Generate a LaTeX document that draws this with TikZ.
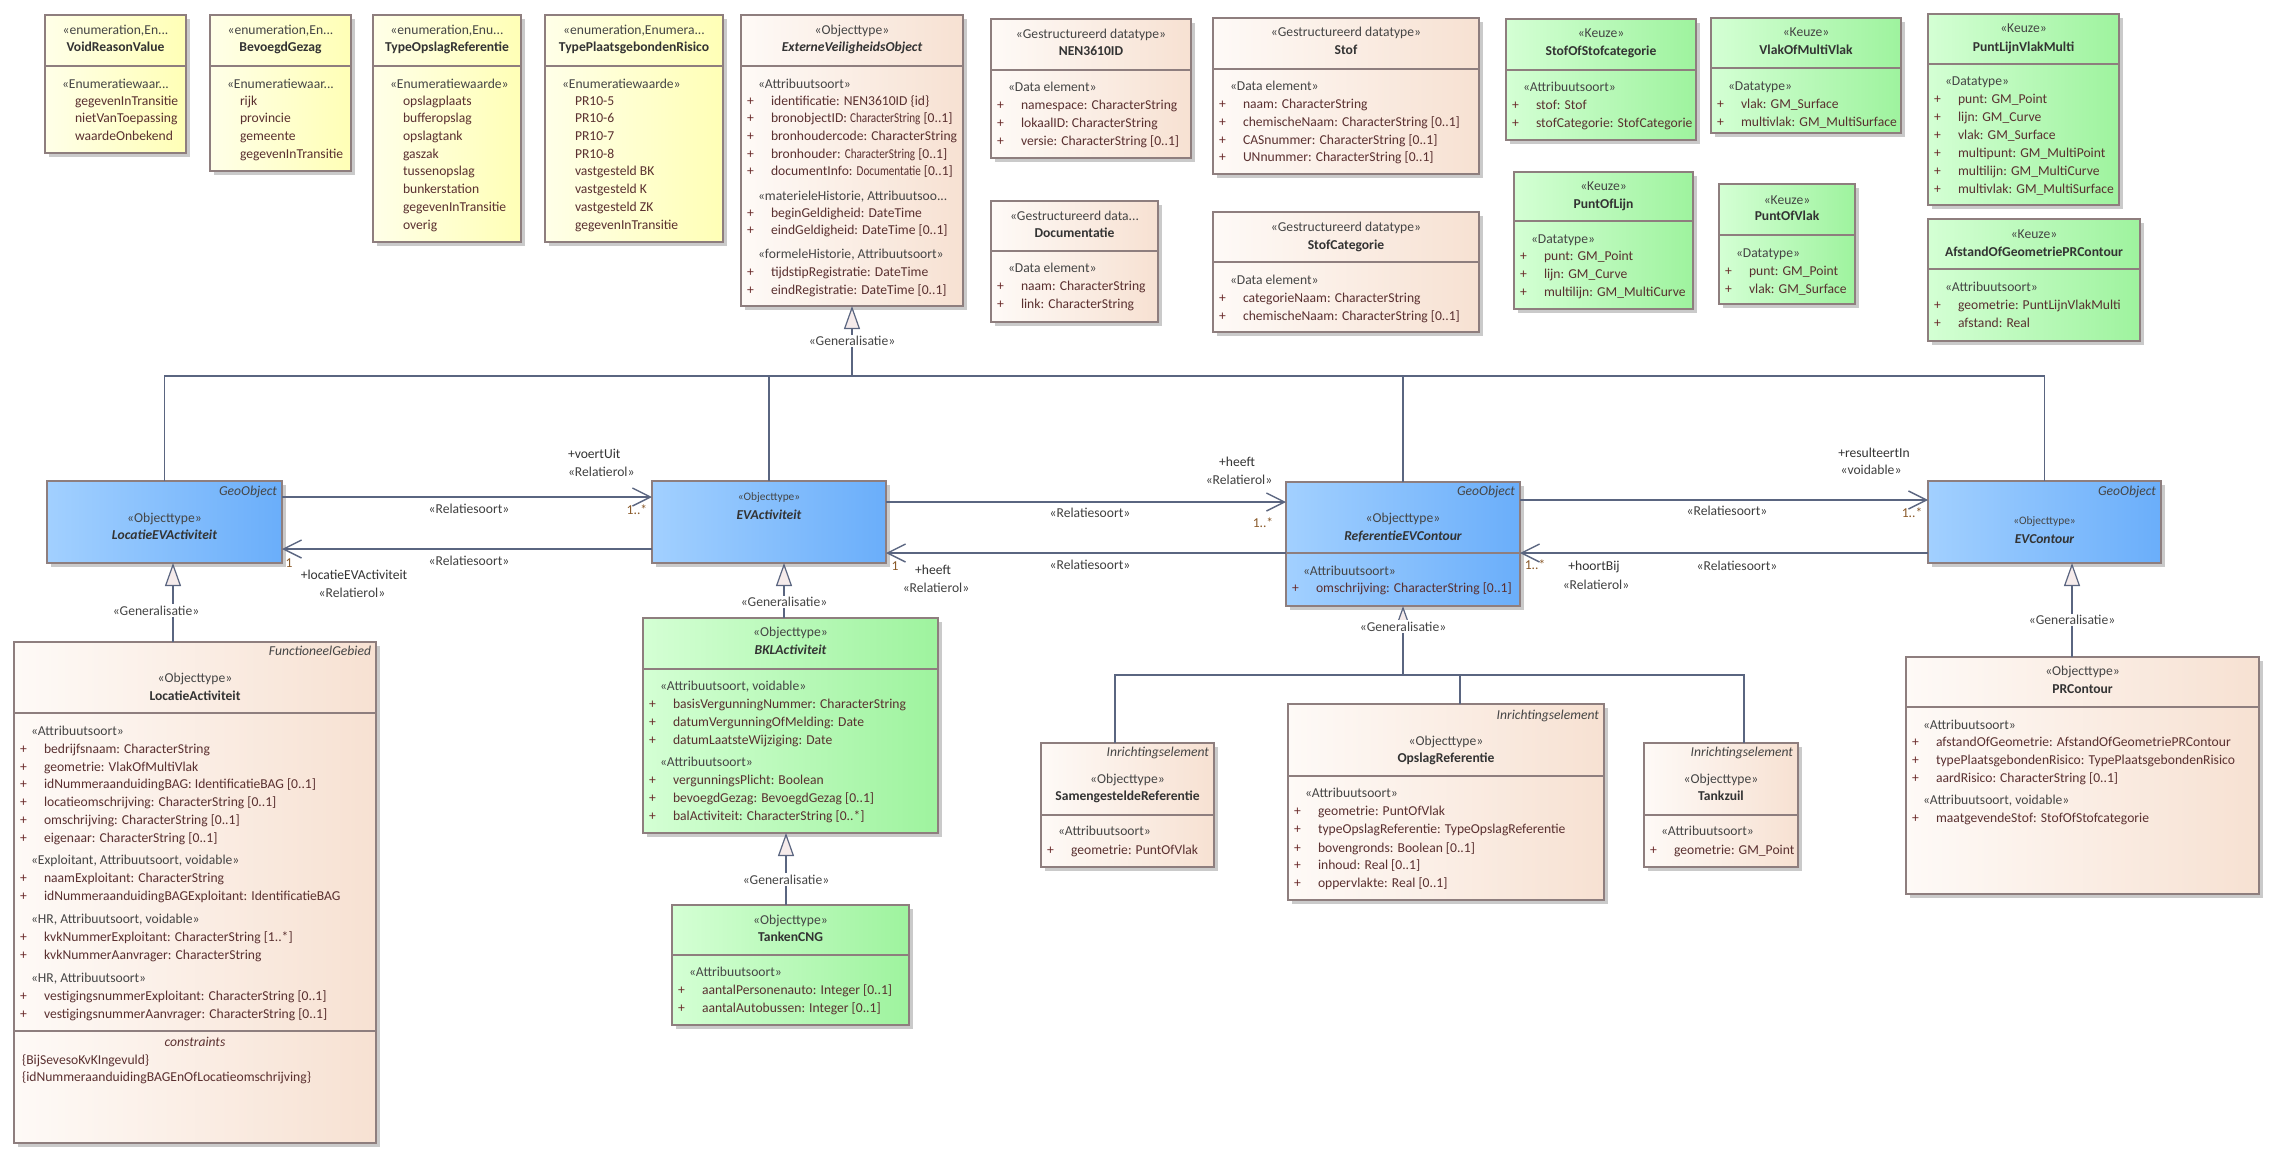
\documentclass[tikz,border=0pt]{standalone}
\usepackage{fontspec}
\setmainfont{Carlito}
\usepackage{graphicx}
\usetikzlibrary{arrows.meta}

\definecolor{enumL}{HTML}{FFFFE8}
\definecolor{enumR}{HTML}{FFFFB6}
\definecolor{dtL}{HTML}{FEFAF7}
\definecolor{dtR}{HTML}{F7E1D2}
\definecolor{grL}{HTML}{D4FFD4}
\definecolor{grR}{HTML}{9EF39E}
\definecolor{blL}{HTML}{A2D0FF}
\definecolor{blR}{HTML}{6AAEFA}
\definecolor{bord}{HTML}{8E7E7E}
\definecolor{shad}{HTML}{CACACA}
\definecolor{connc}{HTML}{5A6580}
\definecolor{stc}{HTML}{454545}
\definecolor{nmc}{HTML}{333333}
\definecolor{atc}{HTML}{5A3030}
\definecolor{plc}{HTML}{6A2A2A}
\definecolor{multc}{HTML}{8A5A2A}
\definecolor{lblc}{HTML}{404040}
\definecolor{trif}{HTML}{F5EBEB}

\newcounter{tn}
\newcommand\fs{\fontsize{13.6}{17}\selectfont}
\newcommand\fsmall{\fontsize{11.4}{14}\selectfont}
\newcommand\sq[1]{\scalebox{0.82}[1]{#1}}

\tikzset{
 box/.style={draw=bord, line width=1.2pt, inner sep=0pt, outer sep=0pt},
 enumbox/.style={box, left color=enumL, right color=enumR},
 dtbox/.style={box, left color=dtL, right color=dtR},
 grbox/.style={box, left color=grL, right color=grR},
 blbox/.style={box, left color=blL, right color=blR},
 txt/.style={inner sep=0pt, outer sep=0pt, anchor=mid, text=nmc, font=\fs},
 cline/.style={draw=connc, line width=1.4pt},
 gen/.style={cline, -{Triangle[length=23pt, width=16pt, fill=trif, line width=1.2pt]}},
 assoc/.style={cline, -{Straight Barb[length=18pt, width=18pt, line width=1.4pt]}},
 genlbl/.style={txt, text=stc, fill=white, inner sep=1.5pt},
}

% box with divider
\newcommand\umlbox[7]{%
 \pgfmathsetmacro\bw{#5-#3}%
 \pgfmathsetmacro\bh{#6-#4}%
 \fill[shad] ({#3+4},{#4+4}) rectangle ({#5+4},{#6+4});
 \node[#1, minimum width=\bw pt, minimum height=\bh pt, anchor=north west] (#2) at (#3,#4) {};
 \draw[draw=bord, line width=1.2pt] (#2.west |- 0,#7) -- (#2.east |- 0,#7);
}
% box without divider
\newcommand\umlboxnd[6]{%
 \pgfmathsetmacro\bw{#5-#3}%
 \pgfmathsetmacro\bh{#6-#4}%
 \fill[shad] ({#3+4},{#4+4}) rectangle ({#5+4},{#6+4});
 \node[#1, minimum width=\bw pt, minimum height=\bh pt, anchor=north west] (#2) at (#3,#4) {};
}
\newcommand\tx[4][]{\stepcounter{tn}\node[txt,#1] (t\arabic{tn}) at ({#2},{#3}) {#4};}
\newcommand\st[3]{\tx[text=stc]{#1}{#2}{#3}}
\newcommand\sts[3]{\tx[text=stc, font=\fsmall]{#1}{#2}{#3}}
\newcommand\nm[3]{\tx[font=\fs\bfseries]{#1}{#2}{#3}}
\newcommand\nmi[3]{\tx[font=\fs\bfseries\itshape]{#1}{#2}{#3}}
\newcommand\gtag[3]{\tx[anchor=mid east, text=stc, font=\fs\itshape]{#1-5}{#2}{#3}}
\newcommand\sctn[3]{\tx[anchor=mid west, text=stc]{#1+17}{#2}{#3}}
\newcommand\attr[3]{\tx[anchor=mid west, text=plc]{#1+6}{#2}{+}\tx[anchor=mid west, text=atc]{#1+30}{#2}{#3}}
\newcommand\en[3]{\tx[anchor=mid west, text=atc]{#1+30}{#2}{#3}}
\newcommand\lbl[3]{\tx[text=lblc]{#1}{#2}{#3}}
\newcommand\mult[3]{\tx[text=multc]{#1}{#2}{#3}}

\begin{document}
\begin{tikzpicture}[x=1pt,y=-1pt]
\useasboundingbox (0,0) rectangle (2280,1160);
\fill[white] (0,0) rectangle (2280,1160);

% ================= enumerations =================
\umlbox{enumbox}{vrv}{45}{15}{186}{153}{66}
\st{115.5}{32}{«enumeration,En...}
\nm{115.5}{49}{VoidReasonValue}
\sctn{45}{86}{«Enumeratiewaar...}
\en{45}{103}{gegevenInTransitie}
\en{45}{120}{nietVanToepassing}
\en{45}{138}{waardeOnbekend}

\umlbox{enumbox}{bg}{210}{15}{351}{171}{66}
\st{280.5}{32}{«enumeration,En...}
\nm{280.5}{49}{BevoegdGezag}
\sctn{210}{86}{«Enumeratiewaar...}
\en{210}{103}{rijk}
\en{210}{120}{provincie}
\en{210}{138}{gemeente}
\en{210}{156}{gegevenInTransitie}

\umlbox{enumbox}{tor}{373}{15}{521}{242}{66}
\st{447}{32}{«enumeration,Enu...}
\nm{447}{49}{TypeOpslagReferentie}
\sctn{373}{86}{«Enumeratiewaarde»}
\en{373}{103}{opslagplaats}
\en{373}{120}{bufferopslag}
\en{373}{138}{opslagtank}
\en{373}{156}{gaszak}
\en{373}{173}{tussenopslag}
\en{373}{191}{bunkerstation}
\en{373}{209}{gegevenInTransitie}
\en{373}{227}{overig}

\umlbox{enumbox}{tpr}{545}{15}{723}{242}{66}
\st{634}{32}{«enumeration,Enumera...}
\nm{634}{49}{TypePlaatsgebondenRisico}
\sctn{545}{86}{«Enumeratiewaarde»}
\en{545}{103}{PR10-5}
\en{545}{120}{PR10-6}
\en{545}{138}{PR10-7}
\en{545}{156}{PR10-8}
\en{545}{173}{vastgesteld BK}
\en{545}{191}{vastgesteld K}
\en{545}{209}{vastgesteld ZK}
\en{545}{227}{gegevenInTransitie}

% ================= ExterneVeiligheidsObject =================
\umlbox{dtbox}{evo}{741}{15}{963}{306}{66}
\st{852}{32}{«Objecttype»}
\nmi{852}{49}{ExterneVeiligheidsObject}
\sctn{741}{86}{«Attribuutsoort»}
\attr{741}{103}{identificatie: NEN3610ID \{id\}}
\attr{741}{120}{bronobjectID: \sq{CharacterString} [0..1]}
\attr{741}{138}{bronhoudercode: CharacterString}
\attr{741}{156}{bronhouder: \sq{CharacterString} [0..1]}
\attr{741}{173}{documentInfo: \sq{Documentatie} [0..1]}
\sctn{741}{198}{«materieleHistorie, Attribuutsoo...}
\attr{741}{215}{beginGeldigheid: DateTime}
\attr{741}{232}{eindGeldigheid: DateTime [0..1]}
\sctn{741}{256}{«formeleHistorie, Attribuutsoort»}
\attr{741}{274}{tijdstipRegistratie: DateTime}
\attr{741}{292}{eindRegistratie: DateTime [0..1]}

% ================= datatypes =================
\umlbox{dtbox}{nen}{991}{19}{1191}{158}{70}
\st{1091}{36}{«Gestructureerd datatype»}
\nm{1091}{53}{NEN3610ID}
\sctn{991}{89}{«Data element»}
\attr{991}{107}{namespace: CharacterString}
\attr{991}{125}{lokaalID: CharacterString}
\attr{991}{143}{versie: CharacterString [0..1]}

\umlbox{dtbox}{stof}{1213}{18}{1479}{174}{69}
\st{1346}{34}{«Gestructureerd datatype»}
\nm{1346}{52}{Stof}
\sctn{1213}{88}{«Data element»}
\attr{1213}{106}{naam: CharacterString}
\attr{1213}{124}{chemischeNaam: CharacterString [0..1]}
\attr{1213}{142}{CASnummer: CharacterString [0..1]}
\attr{1213}{159}{UNnummer: CharacterString [0..1]}

\umlbox{dtbox}{doc}{991}{201}{1158}{322}{251}
\st{1074.5}{218}{«Gestructureerd data...}
\nm{1074.5}{235}{Documentatie}
\sctn{991}{270}{«Data element»}
\attr{991}{288}{naam: CharacterString}
\attr{991}{306}{link: CharacterString}

\umlbox{dtbox}{stcat}{1213}{212}{1479}{332}{262}
\st{1346}{229}{«Gestructureerd datatype»}
\nm{1346}{247}{StofCategorie}
\sctn{1213}{282}{«Data element»}
\attr{1213}{300}{categorieNaam: CharacterString}
\attr{1213}{318}{chemischeNaam: CharacterString [0..1]}

% ================= Keuze (green) =================
\umlbox{grbox}{sosc}{1506}{19}{1696}{140}{70}
\st{1601}{35}{«Keuze»}
\nm{1601}{53}{StofOfStofcategorie}
\sctn{1506}{89}{«Attribuutsoort»}
\attr{1506}{107}{stof: Stof}
\attr{1506}{125}{stofCategorie: StofCategorie}

\umlbox{grbox}{vomv}{1711}{18}{1901}{133}{68}
\st{1806}{34}{«Keuze»}
\nm{1806}{52}{VlakOfMultiVlak}
\sctn{1711}{88}{«Datatype»}
\attr{1711}{106}{vlak: GM\_Surface}
\attr{1711}{124}{multivlak: GM\_MultiSurface}

\umlbox{grbox}{plvm}{1928}{14}{2119}{205}{64}
\st{2023.5}{30}{«Keuze»}
\nm{2023.5}{49}{PuntLijnVlakMulti}
\sctn{1928}{83}{«Datatype»}
\attr{1928}{101}{punt: GM\_Point}
\attr{1928}{119}{lijn: GM\_Curve}
\attr{1928}{137}{vlak: GM\_Surface}
\attr{1928}{155}{multipunt: GM\_MultiPoint}
\attr{1928}{173}{multilijn: GM\_MultiCurve}
\attr{1928}{191}{multivlak: GM\_MultiSurface}

\umlbox{grbox}{pol}{1514}{172}{1693}{309}{221}
\st{1603.5}{188}{«Keuze»}
\nm{1603.5}{206}{PuntOfLijn}
\sctn{1514}{241}{«Datatype»}
\attr{1514}{258}{punt: GM\_Point}
\attr{1514}{276}{lijn: GM\_Curve}
\attr{1514}{294}{multilijn: GM\_MultiCurve}

\umlbox{grbox}{pov}{1719}{184}{1855}{304}{235}
\st{1787}{202}{«Keuze»}
\nm{1787}{218}{PuntOfVlak}
\sctn{1719}{255}{«Datatype»}
\attr{1719}{273}{punt: GM\_Point}
\attr{1719}{291}{vlak: GM\_Surface}

\umlbox{grbox}{aog}{1928}{219}{2140}{341}{269}
\st{2034}{236}{«Keuze»}
\nm{2034}{254}{AfstandOfGeometriePRContour}
\sctn{1928}{289}{«Attribuutsoort»}
\attr{1928}{307}{geometrie: PuntLijnVlakMulti}
\attr{1928}{325}{afstand: Real}

% ================= blue (GeoObject) row =================
\umlboxnd{blbox}{locev}{47}{481}{282}{563}
\gtag{282}{493}{GeoObject}
\st{164.5}{520}{«Objecttype»}
\nmi{164.5}{537}{LocatieEVActiviteit}

\umlboxnd{blbox}{evact}{652}{481}{886}{563}
\sts{769}{498}{«Objecttype»}
\nmi{769}{517}{EVActiviteit}

\umlbox{blbox}{refev}{1286}{482}{1520}{606}{553}
\gtag{1520}{493}{GeoObject}
\st{1403}{520}{«Objecttype»}
\nmi{1403}{538}{ReferentieEVContour}
\sctn{1286}{573}{«Attribuutsoort»}
\attr{1286}{590}{omschrijving: CharacterString [0..1]}

\umlboxnd{blbox}{evc}{1928}{481}{2161}{563}
\gtag{2161}{493}{GeoObject}
\sts{2044.5}{522}{«Objecttype»}
\nmi{2044.5}{541}{EVContour}

% ================= LocatieActiviteit =================
\umlbox{dtbox}{locact}{14}{642}{376}{1143}{713}
\draw[draw=bord, line width=1.2pt] (locact.west |- 0,1031) -- (locact.east |- 0,1031);
\gtag{376}{653}{FunctioneelGebied}
\st{195}{680}{«Objecttype»}
\nm{195}{698}{LocatieActiviteit}
\sctn{14}{733}{«Attribuutsoort»}
\attr{14}{751}{bedrijfsnaam: CharacterString}
\attr{14}{769}{geometrie: VlakOfMultiVlak}
\attr{14}{786}{idNummeraanduidingBAG: IdentificatieBAG [0..1]}
\attr{14}{804}{locatieomschrijving: CharacterString [0..1]}
\attr{14}{822}{omschrijving: CharacterString [0..1]}
\attr{14}{840}{eigenaar: CharacterString [0..1]}
\sctn{14}{862}{«Exploitant, Attribuutsoort, voidable»}
\attr{14}{880}{naamExploitant: CharacterString}
\attr{14}{898}{idNummeraanduidingBAGExploitant: IdentificatieBAG}
\sctn{14}{921}{«HR, Attribuutsoort, voidable»}
\attr{14}{939}{kvkNummerExploitant: CharacterString [1..*]}
\attr{14}{957}{kvkNummerAanvrager: CharacterString}
\sctn{14}{980}{«HR, Attribuutsoort»}
\attr{14}{998}{vestigingsnummerExploitant: CharacterString [0..1]}
\attr{14}{1016}{vestigingsnummerAanvrager: CharacterString [0..1]}
\tx[text=atc, font=\fs\itshape]{195}{1044}{constraints}
\tx[anchor=mid west, text=atc]{22}{1062}{\{BijSevesoKvKIngevuld\}}
\tx[anchor=mid west, text=atc]{22}{1079}{\{idNummeraanduidingBAGEnOfLocatieomschrijving\}}

% ================= BKLActiviteit / TankenCNG =================
\umlbox{grbox}{bkl}{643}{618}{938}{833}{669}
\st{790.5}{634}{«Objecttype»}
\nmi{790.5}{652}{BKLActiviteit}
\sctn{643}{688}{«Attribuutsoort, voidable»}
\attr{643}{706}{basisVergunningNummer: CharacterString}
\attr{643}{724}{datumVergunningOfMelding: Date}
\attr{643}{742}{datumLaatsteWijziging: Date}
\sctn{643}{764}{«Attribuutsoort»}
\attr{643}{782}{vergunningsPlicht: Boolean}
\attr{643}{800}{bevoegdGezag: BevoegdGezag [0..1]}
\attr{643}{818}{balActiviteit: CharacterString [0..*]}

\umlbox{grbox}{tcng}{672}{905}{909}{1025}{955}
\st{790.5}{922}{«Objecttype»}
\nm{790.5}{939}{TankenCNG}
\sctn{672}{974}{«Attribuutsoort»}
\attr{672}{992}{aantalPersonenauto: Integer [0..1]}
\attr{672}{1010}{aantalAutobussen: Integer [0..1]}

% ================= Inrichtingselementen =================
\umlbox{dtbox}{samref}{1041}{743}{1214}{867}{815}
\gtag{1214}{754}{Inrichtingselement}
\st{1127.5}{781}{«Objecttype»}
\nm{1127.5}{798}{SamengesteldeReferentie}
\sctn{1041}{833}{«Attribuutsoort»}
\attr{1041}{852}{geometrie: PuntOfVlak}

\umlbox{dtbox}{opsl}{1288}{704}{1604}{900}{776}
\gtag{1604}{717}{Inrichtingselement}
\st{1446}{743}{«Objecttype»}
\nm{1446}{760}{OpslagReferentie}
\sctn{1288}{795}{«Attribuutsoort»}
\attr{1288}{813}{geometrie: PuntOfVlak}
\attr{1288}{831}{typeOpslagReferentie: TypeOpslagReferentie}
\attr{1288}{850}{bovengronds: Boolean [0..1]}
\attr{1288}{867}{inhoud: Real [0..1]}
\attr{1288}{885}{oppervlakte: Real [0..1]}

\umlbox{dtbox}{tankz}{1644}{743}{1798}{867}{815}
\gtag{1798}{754}{Inrichtingselement}
\st{1721}{781}{«Objecttype»}
\nm{1721}{798}{Tankzuil}
\sctn{1644}{833}{«Attribuutsoort»}
\attr{1644}{852}{geometrie: GM\_Point}

% ================= PRContour =================
\umlbox{dtbox}{prc}{1906}{657}{2259}{894}{707}
\st{2082.5}{673}{«Objecttype»}
\nm{2082.5}{691}{PRContour}
\sctn{1906}{727}{«Attribuutsoort»}
\attr{1906}{744}{afstandOfGeometrie: AfstandOfGeometriePRContour}
\attr{1906}{762}{typePlaatsgebondenRisico: TypePlaatsgebondenRisico}
\attr{1906}{780}{aardRisico: CharacterString [0..1]}
\sctn{1906}{802}{«Attribuutsoort, voidable»}
\attr{1906}{820}{maatgevendeStof: StofOfStofcategorie}

% ================= connectors =================
\coordinate (bus) at (0,376);
\coordinate (bus2) at (0,675);
\coordinate (a1) at (0,497);
\coordinate (a2) at (0,549);
\coordinate (a3) at (0,502);
\coordinate (a4) at (0,553);
\coordinate (a5) at (0,500);
\coordinate (a6) at (0,553);

% generalisation tree to ExterneVeiligheidsObject
\draw[cline] (locev.north) |- (evc.north |- bus) -- (evc.north);
\draw[cline] (evact.north) -- (evact.north |- bus);
\draw[cline] (refev.north) -- (refev.north |- bus);
\draw[gen] (evo.south |- bus) -- (evo.south) node[genlbl, pos=0.47] (g1) {«Generalisatie»};

% generalisations from below
\draw[gen] ([xshift=-22pt]locact.north) -- ([xshift=-22pt]locact.north |- locev.south)
  node[genlbl, pos=0.37, xshift=-17pt] (g2) {«Generalisatie»};
\draw[gen] ([xshift=-6.5pt]bkl.north) -- ([xshift=-6.5pt]bkl.north |- evact.south)
  node[genlbl, pos=0.25] (g3) {«Generalisatie»};
\draw[gen] ([xshift=-4.5pt]tcng.north) -- ([xshift=-4.5pt]tcng.north |- bkl.south)
  node[genlbl, pos=0.32] (g4) {«Generalisatie»};
\draw[gen] ([xshift=-10.5pt]prc.north) -- ([xshift=-10.5pt]prc.north |- evc.south)
  node[genlbl, pos=0.37] (g5) {«Generalisatie»};

% generalisation tree to ReferentieEVContour
\draw[cline] ([xshift=-12.5pt]samref.north) |- ([xshift=23pt]tankz.north |- bus2) -- ([xshift=23pt]tankz.north);
\draw[cline] ([xshift=14pt]opsl.north) -- ([xshift=14pt]opsl.north |- bus2);
\draw[gen] (refev.south |- bus2) -- (refev.south) node[genlbl, pos=0.667] (g6) {«Generalisatie»};

% associations
\draw[assoc] (locev.east |- a1) -- (evact.west |- a1);
\draw[assoc] (evact.west |- a2) -- (locev.east |- a2);
\draw[assoc] (evact.east |- a3) -- (refev.west |- a3);
\draw[assoc] (refev.west |- a4) -- (evact.east |- a4);
\draw[assoc] (refev.east |- a5) -- (evc.west |- a5);
\draw[assoc] (evc.west |- a6) -- (refev.east |- a6);

% association labels
\tx[anchor=mid west, text=nmc]{568}{456}{+voertUit}
\tx[anchor=mid west, text=lblc]{568}{474}{«Relatierol»}
\lbl{469}{511}{«Relatiesoort»}
\mult{637}{512}{1..*}
\lbl{469}{563}{«Relatiesoort»}
\mult{289}{565}{1}
\tx[text=nmc]{354}{577}{+locatieEVActiviteit}
\lbl{352}{595}{«Relatierol»}

\tx[text=nmc]{1237}{464}{+heeft}
\lbl{1239}{482}{«Relatierol»}
\lbl{1090}{515}{«Relatiesoort»}
\mult{1263}{525}{1..*}
\lbl{1090}{567}{«Relatiesoort»}
\mult{895}{568}{1}
\tx[text=nmc]{933}{572}{+heeft}
\lbl{936}{590}{«Relatierol»}

\tx[text=nmc]{1874}{455}{+resulteertIn}
\lbl{1871}{472}{«voidable»}
\lbl{1727}{513}{«Relatiesoort»}
\mult{1912}{515}{1..*}
\mult{1535}{567}{1..*}
\tx[text=nmc]{1594}{568}{+hoortBij}
\lbl{1596}{587}{«Relatierol»}
\lbl{1737}{568}{«Relatiesoort»}

\end{tikzpicture}
\end{document}
